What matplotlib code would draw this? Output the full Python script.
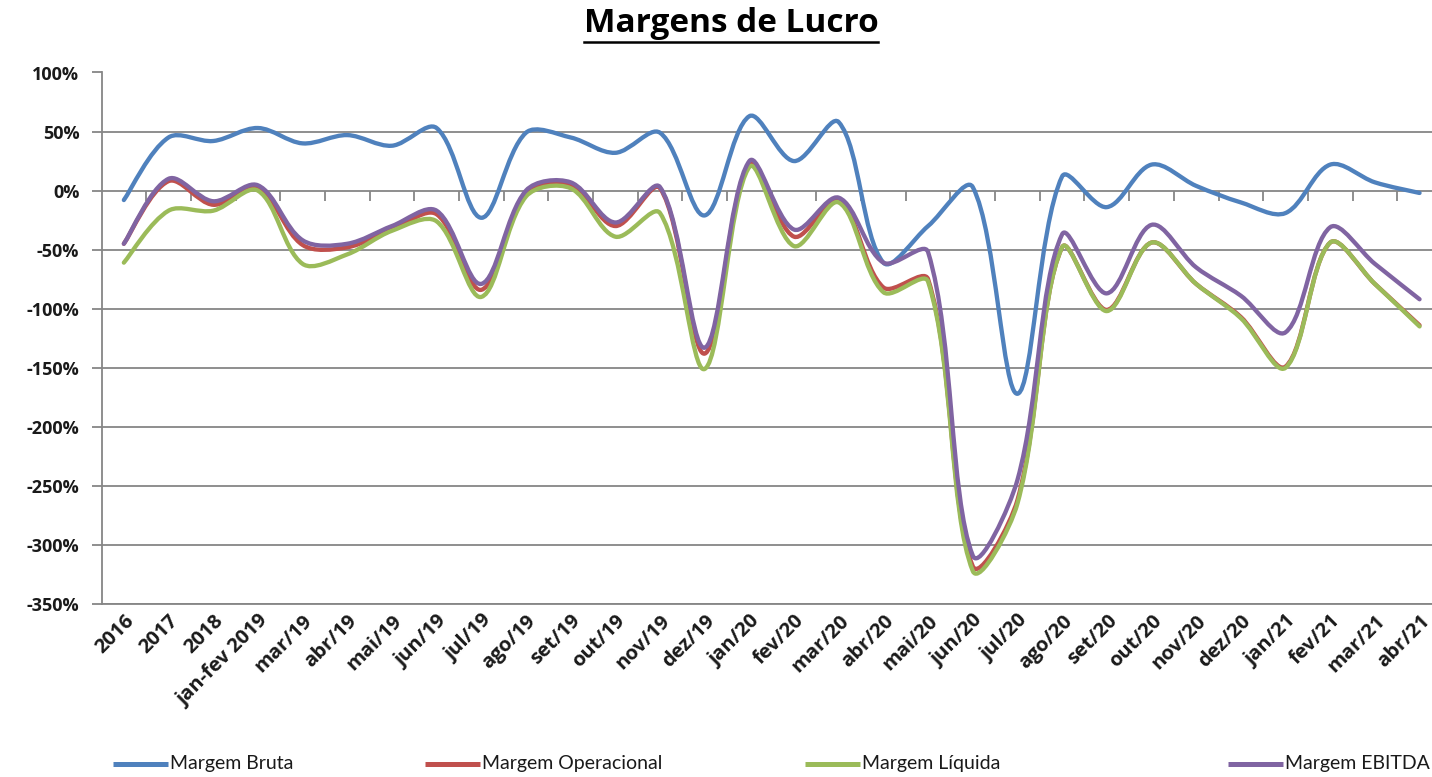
import matplotlib
matplotlib.use('Agg')
import matplotlib.pyplot as plt
from matplotlib.path import Path
from matplotlib.patches import PathPatch
from matplotlib.lines import Line2D
import numpy as np

categories = ['2016', '2017', '2018', 'jan-fev 2019', 'mar/19', 'abr/19', 'mai/19',
              'jun/19', 'jul/19', 'ago/19', 'set/19', 'out/19', 'nov/19', 'dez/19',
              'jan/20', 'fev/20', 'mar/20', 'abr/20', 'mai/20', 'jun/20', 'jul/20',
              'ago/20', 'set/20', 'out/20', 'nov/20', 'dez/20', 'jan/21', 'fev/21',
              'mar/21', 'abr/21']

margem_bruta = [-8, 45, 42, 53, 40, 47, 38, 53, -23, 49, 45, 32, 49, -21,
                63, 25, 58, -61, -30, 3, -172, 12, -14, 22, 4, -10, -19, 22, 7, -2]
margem_operacional = [-45, 8, -12, 2, -46, -48, -33, -20, -84, -2, 5, -30, 2, -138,
                      23, -39, -8, -82, -75, -318, -262, -48, -101, -44, -79, -107,
                      -149, -44, -79, -114]
margem_liquida = [-61, -17, -17, 0, -62, -54, -34, -26, -90, -5, 2, -39, -19, -151,
                  20, -47, -10, -86, -77, -322, -265, -48, -102, -44, -79, -108,
                  -150, -44, -79, -115]
margem_ebitda = [-45, 10, -9, 4.5, -42, -45, -30, -17, -79, 0, 7, -27, 3, -133,
                 25, -33, -6, -61, -52, -309, -245, -37, -87, -29, -65, -89,
                 -120, -31, -62, -92]

legend_labels = ['Margem Bruta', 'Margem Operacional', 'Margem Líquida', 'Margem EBITDA']
colors = ['#4F81BD', '#C0504D', '#9BBB59', '#8064A2']
yticks = list(range(-350, 101, 50))

FONT = ['Open Sans', 'DejaVu Sans']
plt.rcParams['font.family'] = FONT

W, H = 1432, 777
fig = plt.figure(figsize=(W / 100, H / 100), dpi=100)
fig.patch.set_facecolor('white')

CAT_PX = 44.68
AX_L = 101.5
AX_TOP = 72.5
AX_BOT = 604.0
ax = fig.add_axes([AX_L / W, 1 - AX_BOT / H, CAT_PX * len(categories) / W, (AX_BOT - AX_TOP) / H])
ax.set_xlim(-0.5, len(categories) - 0.5)
ax.set_ylim(-350, 100)

PX_X = CAT_PX
PX_Y = (AX_BOT - AX_TOP) / 450.0


def smooth_path(xs, ys):
    pts = np.column_stack([xs, ys]).astype(float)
    scr = pts * np.array([PX_X, PX_Y])
    n = len(pts)
    c_in = np.zeros_like(pts)
    c_out = np.zeros_like(pts)
    for i in range(n):
        pv = max(i - 1, 0)
        nx = min(i + 1, n - 1)
        T = pts[nx] - pts[pv]
        if i == 0 or i == n - 1:
            c_in[i] = pts[i] - T / 6.0
            c_out[i] = pts[i] + T / 6.0
            continue
        dp = np.hypot(*(scr[i] - scr[pv]))
        dn = np.hypot(*(scr[nx] - scr[i]))
        s = dp + dn
        c_in[i] = pts[i] - T * (dp / s) / 3.0
        c_out[i] = pts[i] + T * (dn / s) / 3.0
    verts = [pts[0]]
    codes = [Path.MOVETO]
    for i in range(n - 1):
        verts += [c_out[i], c_in[i + 1], pts[i + 1]]
        codes += [Path.CURVE4] * 3
    return Path(verts, codes)


x = np.arange(len(categories))
for vals, col in zip([margem_bruta, margem_operacional, margem_liquida, margem_ebitda], colors):
    patch = PathPatch(smooth_path(x, vals), fill=False, edgecolor=col, lw=3.1,
                      capstyle='round', joinstyle='round', zorder=3)
    ax.add_patch(patch)

# axes styling
grid_col = '#868686'
ax.set_yticks(yticks)
ax.set_yticklabels([f'{v}%' for v in yticks], fontsize=13, fontweight='bold', color='#1a1a1a')
ax.yaxis.grid(True, color=grid_col, lw=1.3, zorder=1)
ax.set_axisbelow(True)
for s in ['top', 'right']:
    ax.spines[s].set_visible(False)
ax.spines['left'].set_color(grid_col)
ax.spines['left'].set_linewidth(1.3)
ax.spines['bottom'].set_color(grid_col)
ax.spines['bottom'].set_linewidth(1.3)
ax.tick_params(axis='y', length=7, width=1.3, color=grid_col, pad=9)

ax.set_xticks(x)
ax.set_xticklabels(categories, rotation=45, ha='right', rotation_mode='anchor',
                   fontsize=14.5, fontweight='bold', color='#1a1a1a')
ax.tick_params(axis='x', length=0, pad=5)

# category boundary ticks on the 0% line
sec = ax.secondary_xaxis(350 / 450)
sec.set_xticks(np.arange(0.5, len(categories) - 1, 1.0))
sec.xaxis.set_ticks_position('bottom')
sec.tick_params(axis='x', length=7, width=1.3, color=grid_col, direction='out',
                labelbottom=False, labeltop=False)
for s in sec.spines.values():
    s.set_visible(False)

# title with underline
t = fig.text(731 / W, 1 - 24 / H, 'Margens de Lucro', ha='center', va='center',
             fontsize=24, fontweight='bold', color='black')
fig.canvas.draw()
bb = t.get_window_extent()
uy = 1 - 42 / H
fig.add_artist(Line2D([bb.x0 / W, bb.x1 / W], [uy, uy], transform=fig.transFigure,
                      color='black', lw=1.8))

# legend (manual placement like the original)
leg_y = 1 - 764 / H
leg_x = [113, 425, 805, 1228]
for lx, lab, col in zip(leg_x, legend_labels, colors):
    fig.add_artist(Line2D([lx / W, (lx + 55) / W], [leg_y, leg_y], transform=fig.transFigure,
                          color=col, lw=3.6, solid_capstyle='butt'))
    fig.text((lx + 57) / W, leg_y, lab, ha='left', va='center', fontsize=14,
             color='#1a1a1a', family=['Lato', 'DejaVu Sans'])

fig.savefig('out.png', dpi=100, facecolor='white')
